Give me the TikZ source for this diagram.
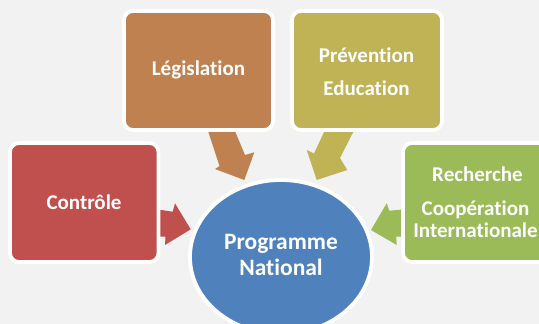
\documentclass[tikz,border=0pt]{standalone}
\usepackage{fontspec}
\setmainfont[Ligatures=NoCommon]{Carlito}
\usetikzlibrary{shapes.geometric}
\definecolor{bg}{RGB}{242,242,242}
\definecolor{cred}{RGB}{192,80,77}
\definecolor{corange}{RGB}{192,129,80}
\definecolor{colive}{RGB}{191,179,86}
\definecolor{cgreen}{RGB}{155,187,89}
\definecolor{cblue}{RGB}{79,129,189}
\begin{document}
\begin{tikzpicture}[x=1pt,y=-1pt,
  box/.style={draw=white,line width=3.8pt,rounded corners=9pt},
  lbl/.style={text=white,inner sep=0pt,font=\bfseries\fontsize{21}{26}\selectfont,align=center}]
\useasboundingbox (0,0) rectangle (539,324);
\clip (0,0) rectangle (539,324);
\fill[bg] (0,0) rectangle (539,324);
% arrows
\fill[cred] (158,209.5) -- (172.7,211.7) -- (175,203.3) -- (190.7,229.3) -- (165,245) -- (165.5,236.7) -- (158,236.7) -- cycle;
\fill[cgreen] (403,209.5) -- (389.3,210.7) -- (386.7,203.3) -- (371,230) -- (396.7,245) -- (396.2,236.7) -- (403,236.7) -- cycle;
\fill[corange] (207.7,130) -- (234.5,130) -- (245,155) -- (254.3,152.3) -- (244.3,180) -- (215,169) -- (219.5,166) -- cycle;
\fill[colive] (325,130) -- (354.3,130) -- (340,158) -- (347.3,170) -- (316.7,180) -- (306.7,150) -- (314,153.5) -- cycle;
% boxes
\filldraw[box,fill=cred] (10,143) rectangle (158.5,262);
\filldraw[box,fill=corange] (124,11) rectangle (273,130);
\filldraw[box,fill=colive] (292,11) rectangle (442,130);
\filldraw[box,fill=cgreen] (403,143) rectangle (560,262);
% ellipse
\filldraw[draw=white,line width=3.8pt,fill=cblue] (281,257) ellipse [x radius=91,y radius=77];
% labels
\node[lbl] (ctrl) at (84,202) {Contrôle};
\node[lbl] (leg) at (198.5,70) {Législation};
\node[lbl,font=\bfseries\fontsize{21}{33}\selectfont] (prev) at (366.5,71.5) {Prévention\\Education};
\node[lbl] (rech) at (477.5,174) {Recherche};
\node[lbl,font=\bfseries\fontsize{21}{22}\selectfont] (coop) at (475.5,219) {Coopération\\Internationale};
\node[lbl,font=\bfseries\fontsize{23.5}{26}\selectfont] (prog) at (281,255) {Programme\\National};
\end{tikzpicture}
\end{document}
